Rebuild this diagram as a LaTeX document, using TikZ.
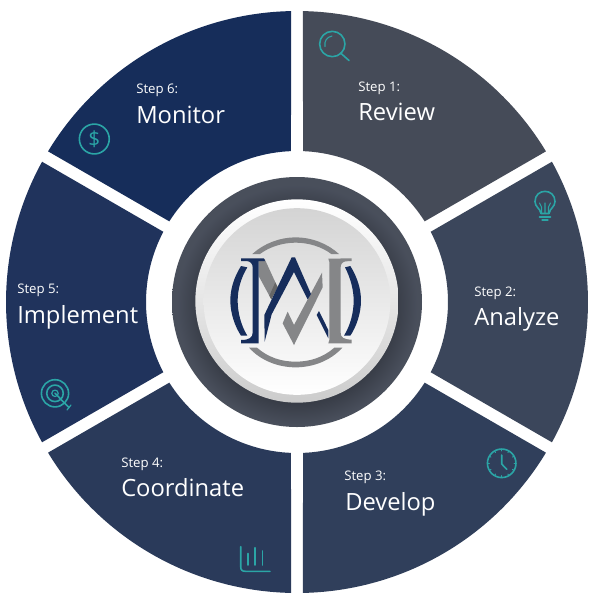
\documentclass[tikz,border=0pt]{standalone}
\usepackage{fontspec}
\setmainfont{Open Sans}
\usetikzlibrary{positioning}

\definecolor{seg1}{HTML}{454B58}
\definecolor{seg2}{HTML}{3B465B}
\definecolor{seg3}{HTML}{303F5B}
\definecolor{seg4}{HTML}{2A3A5A}
\definecolor{seg5}{HTML}{20335C}
\definecolor{seg6}{HTML}{162D5A}
\definecolor{tealline}{HTML}{2BA5A6}
\definecolor{logoblue}{HTML}{162D5C}
\definecolor{logogrey}{HTML}{858688}
\pgfdeclareradialshading{ringshade}{\pgfpoint{0bp}{-1.2bp}}{color(0bp)=(seg1!78!black);color(19bp)=(seg1!78!black);color(24bp)=(seg1!98!white);color(50bp)=(seg1!98!white)}

\tikzset{
	steplabel/.style={text=white,anchor=base west,inner sep=0pt,font=\fontsize{9.9}{12}\selectfont},
	steptitle/.style={text=white,anchor=base west,inner sep=0pt,font=\fontsize{17.8}{22}\selectfont},
	iconline/.style={draw=tealline,line width=1.2pt,line cap=round,line join=round},
	disc/.style={circle,inner sep=0pt,minimum size=#1}
}

\begin{document}
\begin{tikzpicture}[x=.75pt,y=-.75pt]
	\useasboundingbox (0,0) rectangle (600,612);

	\foreach \a/\c [count=\n] in {-90/seg1,-30/seg2,30/seg3,90/seg4,150/seg5,210/seg6}
		\fill[\c,shift={(297,302)}] (\a+1.18:291) arc[start angle=\a+1.18,end angle=\a+58.82,radius=291]
			-- (\a+57.72:151) arc[start angle=\a+57.72,end angle=\a+2.28,radius=151] -- cycle;

	\foreach \s/\t/\x/\y/\u/\v in {Step 1:/Review/358/91/358/120,Step 2:/Analyze/474/296/474/325,Step 3:/Develop/344/480/345/510,Step 4:/Coordinate/121/467/121/496,Step 5:/Implement/17/293/17/323,Step 6:/Monitor/136/93/136/123} {
		\node[steplabel] (S\t) at (\x,\y) {\s};
		\node[steptitle] (T\t) at (\u,\v) {\t};
	}

	\node[disc=187.5pt,shading=ringshade] (ring) at (297,302) {};
	\node[disc=152.5pt,top color=white,bottom color=black!20] (outerdisc) at (297,301) {};
	\node[disc=140pt,top color=black!17,bottom color=white] (innerdisc) at (297,301.5) {};

	% logo
	\begin{scope}[shift={(170,180)},x=.25pt,y=-.25pt]
		\fill[logogrey] (247,222) .. controls (282,190) and (330,172) .. (377,172) .. controls (424,172) and (472,190) .. (507,222)
			-- (484,222) .. controls (455,200) and (415,188) .. (377,188) .. controls (339,188) and (299,200) .. (270,222) -- cycle;
		\fill[logogrey] (237,503) .. controls (272,542) and (325,562) .. (377,562) .. controls (429,562) and (482,542) .. (517,503)
			-- (493,503) .. controls (460,532) and (420,545) .. (377,545) .. controls (334,545) and (294,532) .. (261,503) -- cycle;
		\fill[logogrey] (266,243) -- (284,237) -- (323,322) -- (304,358) -- (266,288) -- cycle;
		\fill[black!60] (323,322) -- (304,358) -- (298,347) -- (316,307) -- cycle;
		\fill[logogrey] (456,278) -- (458,322) -- (372,495) -- (338,430) -- (353,395) -- (372,435) -- cycle;
		\fill[logogrey] (475,236) -- (545,235) -- (545,243) -- (527,244) .. controls (517,246) and (512,252) .. (512,262)
			-- (512,458) .. controls (512,472) and (520,478) .. (545,479) -- (545,490) -- (475,490) -- (478,480) -- (478,246) -- cycle;
		\fill[logoblue] (213,235) -- (282,235) -- (285,243) -- (266,243) -- (266,490) -- (213,490) -- (213,480)
			.. controls (238,480) and (248,472) .. (248,458) -- (248,262) .. controls (248,250) and (240,244) .. (230,243) -- (213,243) -- cycle;
		\fill[logoblue] (213,258) .. controls (190,295) and (181,330) .. (181,362) .. controls (181,400) and (195,440) .. (213,467)
			-- (232,467) .. controls (212,435) and (203,395) .. (203,362) .. controls (203,330) and (212,295) .. (232,262) -- cycle;
		\fill[logoblue] (541,258) .. controls (564,295) and (573,330) .. (573,362) .. controls (573,400) and (559,440) .. (541,467)
			-- (522,467) .. controls (542,435) and (551,395) .. (551,362) .. controls (551,330) and (542,295) .. (525,262) -- cycle;
		\fill[logoblue] (365,232) -- (375,232) -- (423,342) -- (413,358) -- (372,276) -- (305,403) -- (284,485) -- (283,405) -- cycle;
		\fill[logoblue] (447,393) -- (440,405) -- (475,475) -- (475,450) -- cycle;
	\end{scope}

	% icons
	\draw[iconline] (332.3,44) circle (9.5pt);
	\draw[iconline] (340.5,53) -- (349,60.5);
	\draw[iconline,line width=.8pt] (325,46.5) .. controls (324,41) and (327,37) .. (332,36);

	\draw[iconline] (541,213.5) .. controls (540,208) and (535,207) .. (535,201.5) .. controls (535,188) and (555,188) .. (555,201.5) .. controls (555,207) and (550,208) .. (549,213.5) -- cycle;
	\draw[iconline,line width=.8pt] (545,213.5) -- (545,203) (541.5,213.5) -- (541.5,207) -- (539.5,203) (548.5,213.5) -- (548.5,207) -- (550.5,203);
	\draw[iconline] (539.5,217) -- (550.5,217);
	\draw[iconline,line width=.9pt] (542,220) -- (548,220);

	\draw[iconline] (501.7,463.3) circle (10.7pt);
	\draw[iconline] (501.7,455) -- (501.7,464) -- (506.7,469.3);
	\foreach \a in {0,30,...,330}
		\draw[iconline,line width=.7pt,shift={(501.7,463.3)}] (\a:12.4) -- (\a:14);

	\draw[iconline] (240.7,546.7) -- (240.7,566.5) .. controls (240.7,570) and (242,571.3) .. (245.5,571.3) -- (270,571.3);
	\foreach \x/\y in {247.7/553.5,255/547.7,262.3/551}
		\draw[iconline] (\x,\y) -- (\x,565);

	\draw[iconline] (55,393.3) circle (10.2pt);
	\draw[iconline] (55,393.3) circle (6.2pt);
	\draw[iconline,line width=.9pt] (55,393.3) circle (2.4pt);
	\draw[iconline] (55,393.3) -- (69,407.5);
	\draw[iconline,line width=.9pt] (71,405) -- (69,407.5) -- (67,410);

	\draw[iconline] (94.3,139) circle (11.2pt);
	\node[text=tealline,inner sep=0pt,font=\fontsize{15.5}{18}\selectfont] (dollar) at (94.3,139) {\$};
\end{tikzpicture}
\end{document}
